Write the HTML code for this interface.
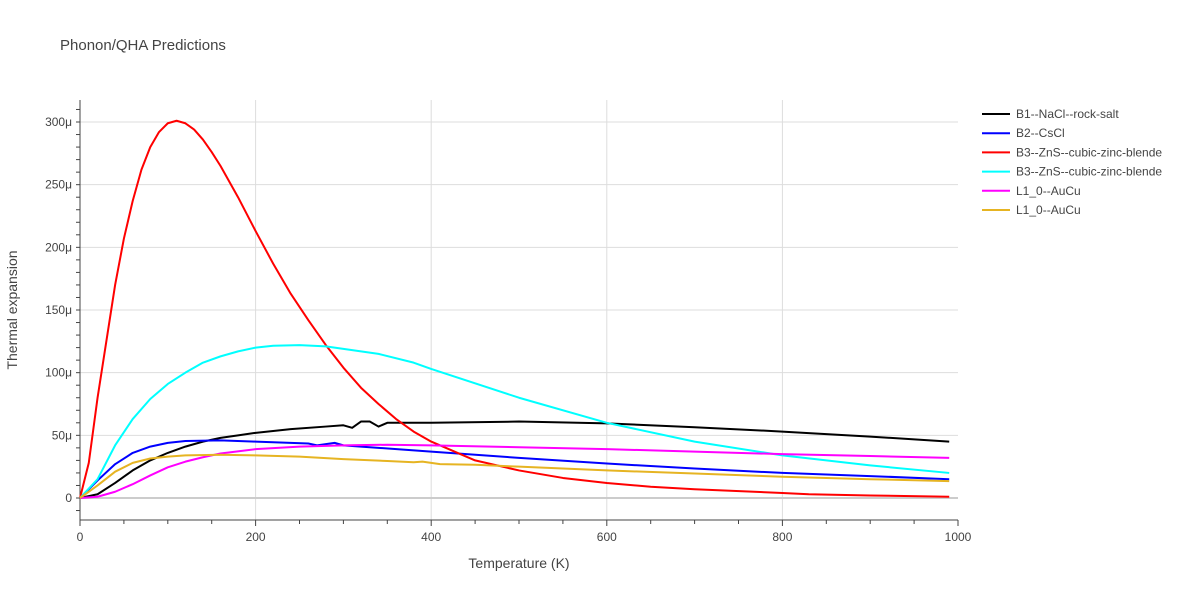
<!DOCTYPE html>
<html><head><meta charset="utf-8"><style>
body{margin:0;background:#fff;font-family:"Liberation Sans",sans-serif;}
svg text{font-family:"Liberation Sans",sans-serif;fill:#444;}
</style></head><body>
<svg width="1200" height="600">
<text x="60" y="50" font-size="15">Phonon/QHA Predictions</text>
<g id="grid"></g><g id="axes"></g><g id="series"></g><g id="legend"></g>
<text x="519" y="568" font-size="14" text-anchor="middle">Temperature (K)</text>
<text transform="translate(17,310) rotate(-90)" font-size="14" text-anchor="middle">Thermal expansion</text>
</svg>
<script>
const xTicks=[0,200,400,600,800,1000];
const yTicks=[0,50,100,150,200,250,300];
const seriesNames=["B1--NaCl--rock-salt","B2--CsCl","B3--ZnS--cubic-zinc-blende","B3--ZnS--cubic-zinc-blende","L1_0--AuCu","L1_0--AuCu"];
const seriesColors=["#000000","#0000ff","#ff0000","#00ffff","#ff00ff","#e6b422"];
const sBlack=[[0,0],[20,3],[40,12],[60,22],[80,30],[100,36],[120,41],[140,45],[160,48],[180,50],[200,52],[240,55],[280,57],[300,58],[310,56],[320,61],[330,61],[340,57],[350,60],[400,60],[500,61],[600,59.5],[700,56.5],[800,53],[900,49],[990,45]];
const sBlue=[[0,0],[20,14],[40,27],[60,36],[80,41],[100,44],[120,45.5],[160,46],[200,45],[260,43.5],[270,42],[290,44],[300,42],[340,40],[400,37],[500,32],[600,27.5],[700,23.5],[800,20],[900,17.5],[990,15]];
const sRed=[[0,0],[10,28],[20,80],[30,125],[40,170],[50,207],[60,237],[70,262],[80,280],[90,292],[100,299],[110,301],[120,299],[130,294],[140,286],[150,276],[160,265],[180,240],[200,213],[220,187],[240,163],[260,142],[280,122],[300,104],[320,88],[340,75],[360,63],[380,53],[400,45],[450,30],[500,22],[550,16],[600,12],[650,9],[700,7],[800,4],[830,3],[900,2],[990,1]];
const sCyan=[[0,0],[20,15],[40,42],[60,63],[80,79],[100,91],[120,100],[140,108],[160,113],[180,117],[200,120],[220,121.5],[250,122],[280,121],[300,119],[340,115],[380,108],[400,103],[500,80],[600,60],[700,45],[800,34],[900,26],[990,20]];
const sMagenta=[[0,0],[20,1],[40,5],[60,11],[80,18],[100,24.5],[120,29],[140,32.5],[160,35.5],[200,39],[250,41],[300,42],[350,42.5],[400,42],[500,40.5],[600,39],[700,37],[800,35],[900,33.5],[990,32]];
const sYellow=[[0,0],[20,10],[40,21],[60,28],[80,31.5],[100,33],[120,34],[160,34.5],[200,34],[250,33],[300,31],[350,29.5],[380,28.5],[390,29],[410,27],[450,26.5],[500,25],[600,22],[700,19.5],[800,17],[900,15],[990,13.5]];
const allSeries=[sBlack,sBlue,sRed,sCyan,sMagenta,sYellow];
const NS="http://www.w3.org/2000/svg";
const X=t=>80+t*0.878, Y=v=>498-v*1.2533;
function mk(tag,attrs,parent){const e=document.createElementNS(NS,tag);for(const k in attrs)e.setAttribute(k,attrs[k]);document.getElementById(parent).appendChild(e);return e;}
xTicks.forEach(t=>{
 if(t>0&&t<1000){const g=mk('line',{x1:X(t),x2:X(t),y1:100,y2:520,stroke:'#ddd'},'grid');}
 const l=mk('text',{x:X(t),y:541,'font-size':12,'text-anchor':'middle'},'axes');l.textContent=t;
 
 
});
for(let t=0;t<=1000;t+=50){mk('line',{x1:X(t),x2:X(t),y1:520,y2:t%200==0?526:524,stroke:'#444'},'axes');}
yTicks.forEach(v=>{
 const g=mk('line',{x1:80,x2:958,y1:Y(v),y2:Y(v),stroke:v==0?'#ccc':'#ddd','stroke-width':v==0?2:1},'grid');
 
 
 const l=mk('text',{x:72,y:Y(v)+4,'font-size':12,'text-anchor':'end'},'axes');l.textContent=v==0?'0':v+'μ';
 
 
});
for(let v=-10;v<=310;v+=10){mk('line',{x1:76,x2:80,y1:Y(v),y2:Y(v),stroke:'#444'},'axes');}
mk('line',{x1:80,x2:80,y1:100,y2:520,stroke:'#444'},'axes');
mk('line',{x1:80,x2:958,y1:520,y2:520,stroke:'#444'},'axes');
allSeries.forEach((s,i)=>{
 const p=mk('polyline',{points:s.map(d=>X(d[0])+','+Y(d[1])).join(' '),fill:'none',stroke:seriesColors[i],'stroke-width':2,'stroke-linejoin':'round'},'series');
 
 
 const ly=114+i*19.2;
 const ll=mk('line',{x1:982,x2:1010,y1:ly,y2:ly,stroke:seriesColors[i],'stroke-width':2},'legend');
 
 
 const lt=mk('text',{x:1016,y:ly+4,'font-size':12},'legend');lt.textContent=seriesNames[i];
 
 
});
</script>
</body></html>
